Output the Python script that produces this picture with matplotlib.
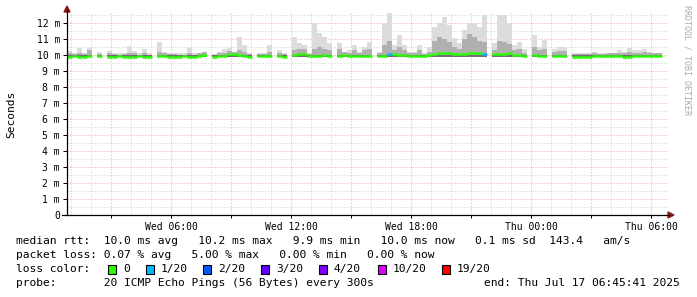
import matplotlib
matplotlib.use('Agg')
import matplotlib.pyplot as plt
import numpy as np
from matplotlib.patches import Rectangle, Polygon
from matplotlib.lines import Line2D

plt.rcParams['font.family'] = ['DejaVu Sans Mono']

W, H = 697, 297

# time axis: hours after Wed 00:00, one column every 15 min
t_start = 0.8
step = 0.25

# smoke (ms): upper edge of light smoke, upper edge of dense smoke
smoke_top = [10.25, 10.15, 10.46, 10.15, 10.46, None, 10.2, None, 10.27, 10.14,
             10.1, 10.14, 10.56, 10.25, 10.1, 10.4, 10.1, None, 10.8, 10.2,
             10.14, 10.14, 10.1, 10.1, 10.46, 10.1, 10.1, 10.2, None, 10.05,
             10.2, 10.35, 10.46, 10.2, 11.15, 10.6, 10.1, None, 10.14, 10.1,
             10.6, None, 10.3, 10.1, None, 11.1, 10.73, 10.62, 10.15, 12.0,
             11.35, 11.1, 10.75, None, 10.73, 10.2, 10.3, 10.6, 10.2, 10.52,
             10.83, None, 10.2, 11.98, 12.6, 10.62, 11.25, 10.62, 10.2, 10.2,
             10.62, 10.1, 10.52, 11.77, 11.98, 12.35, 11.87, 11.04, 10.73, 11.56,
             11.98, 11.98, 11.77, 12.5, None, 10.73, 12.5, 12.5, 11.98, 10.62,
             10.83, 10.35, None, 11.25, 10.52, 10.94, None, 10.4, 10.5, 10.5,
             None, 10.14, 10.14, 10.14, 10.14, 10.2, 10.1, 10.1, 10.1, 10.1,
             10.3, 10.2, 10.46, 10.3, 10.3, 10.35, 10.2, 10.14, 10.14, None]

smoke_mid = [10.15, 10.05, 10.1, 10.05, 10.3, None, 10.05, None, 10.1, 10.05,
             10.02, 10.05, 10.1, 10.1, 10.02, 10.1, 10.02, None, 10.2, 10.1,
             10.05, 10.05, 10.02, 10.02, 10.1, 10.02, 10.1, 10.2, None, 10.02,
             10.1, 10.15, 10.25, 10.2, 10.3, 10.2, 10.05, None, 10.05, 10.05,
             10.2, None, 10.15, 10.05, None, 10.3, 10.35, 10.4, 10.05, 10.4,
             10.5, 10.4, 10.3, None, 10.4, 10.2, 10.15, 10.3, 10.1, 10.3,
             10.4, None, 10.1, 10.6, 10.9, 10.3, 10.5, 10.3, 10.1, 10.1,
             10.3, 10.05, 10.2, 10.9, 11.1, 11.0, 10.8, 10.5, 10.4, 11.0,
             11.3, 11.1, 10.9, 10.8, None, 10.3, 10.9, 10.8, 10.7, 10.3,
             10.4, 10.15, None, 10.5, 10.3, 10.4, None, 10.2, 10.25, 10.25,
             None, 10.05, 10.05, 10.05, 10.05, 10.1, 10.05, 10.05, 10.1, 10.1,
             10.15, 10.15, 10.2, 10.15, 10.15, 10.2, 10.15, 10.1, 10.1, None]

median = [9.9, 9.93, 9.9, 9.9, 9.95, None, 9.93, None, 9.9, 9.9,
          9.92, 9.9, 9.9, 9.9, 9.92, 9.9, 9.9, None, 9.92, 9.93,
          9.9, 9.9, 9.9, 9.92, 9.9, 9.9, 9.95, 10.0, None, 9.9,
          9.92, 9.95, 10.08, 10.05, 10.0, 9.92, 9.9, None, 9.92, 9.93,
          9.95, None, 9.95, 9.9, None, 10.02, 10.05, 10.08, 9.95, 9.95,
          9.95, 10.0, 9.95, None, 9.95, 10.0, 9.95, 9.95, 9.92, 9.95,
          9.95, None, 9.95, 9.95, 10.05, 10.05, 10.0, 9.98, 9.95, 9.95,
          9.95, 9.95, 10.0, 10.05, 10.1, 10.12, 10.1, 10.05, 10.05, 10.08,
          10.12, 10.15, 10.12, 10.08, None, 10.05, 10.05, 10.08, 10.1, 10.0,
          9.98, 9.95, None, 9.98, 9.95, 9.95, None, 9.95, 9.92, 9.92,
          None, 9.9, 9.9, 9.88, 9.9, 9.92, 9.92, 9.93, 9.95, 9.95,
          9.93, 9.9, 9.9, 9.92, 9.95, 9.95, 9.93, 9.92, 9.92, None]

# lost pings (of 20) per column, all others 0
lost = {64: 1, 83: 1}
smoke_floor = 9.85

loss_levels = [0, 1, 2, 3, 4, 10, 19]
loss_labels = ['0', '1/20', '2/20', '3/20', '4/20', '10/20', '19/20']
loss_colors = ['#26ff00', '#00b8ff', '#0059ff', '#5e00ff', '#7e00ff', '#dd00ff', '#ff0000']

tick_hours = [6, 12, 18, 24, 30]
tick_labels = ['Wed 06:00', 'Wed 12:00', 'Wed 18:00', 'Thu 00:00', 'Thu 06:00']


def fx(x):
    return x / W


def fy(y):
    return 1 - y / H


fig = plt.figure(figsize=(W / 100, H / 100), dpi=100)
ax = fig.add_axes([fx(67), fy(215), 601 / W, 202 / H])
ax.set_xlim(t_start, t_start + 601 / 20)
ax.set_ylim(0, 202 / 16)

n = len(median)
t = t_start + step * np.arange(n)
top = np.array([np.nan if v is None else v for v in smoke_top])
mid = np.array([np.nan if v is None else v for v in smoke_mid])
med = np.array([np.nan if v is None else v for v in median])

# grid
for h in range(1, 32):
    c = '#f0a0a0' if h % 3 == 0 else '#cccccc'
    ax.axvline(h, color=c, lw=0.72, ls=(0, (1, 2)), zorder=0)
for k in range(1, 26):
    c = '#f0a0a0' if k % 2 == 0 else '#cccccc'
    ax.axhline(k / 2, color=c, lw=0.72, ls=(0, (1, 2)), zorder=0)

ok = ~np.isnan(top)
ax.bar(t[ok], top[ok] - smoke_floor, bottom=smoke_floor, width=step, align='edge',
       color='#dcdcdc', lw=0, zorder=1)
ok = ~np.isnan(mid)
ax.bar(t[ok], mid[ok] - smoke_floor, bottom=smoke_floor, width=step, align='edge',
       color='#b0b0b0', lw=0, zorder=2)
ax.bar(t[ok], 0.16, bottom=smoke_floor, width=step, align='edge',
       color='#707070', lw=0, zorder=2)

cols = []
for i in range(n):
    lvl = lost.get(i, 0)
    cols.append(loss_colors[loss_levels.index(lvl)])
ok = ~np.isnan(med)
ax.hlines(med[ok], t[ok], t[ok] + step, colors=np.array(cols)[ok], lw=1.8, zorder=3)

# axes look
for s in ['top', 'right', 'left', 'bottom']:
    ax.spines[s].set_visible(False)
ax.set_yticks(range(13))
ax.set_yticklabels(['0'] + ['%d m' % k for k in range(1, 13)], fontsize=7)
ax.set_xticks(tick_hours)
ax.set_xticklabels(tick_labels, fontsize=7)
ax.set_xticks(range(3, 31, 3), minor=True)
ax.tick_params(axis='y', length=3, width=0.72, pad=2)
ax.tick_params(axis='x', which='both', length=2, width=0.72, pad=3)

fig.add_artist(Line2D([fx(67), fx(67)], [fy(215), fy(10)], color='black', lw=0.9))
fig.add_artist(Line2D([fx(62), fx(669)], [fy(215), fy(215)], color='black', lw=0.9))
fig.add_artist(Polygon([(fx(64), fy(12)), (fx(70), fy(12)), (fx(67), fy(6))],
                       closed=True, color='#8b1a1a'))
fig.add_artist(Polygon([(fx(668), fy(212)), (fx(668), fy(218)), (fx(674), fy(215))],
                       closed=True, color='#8b1a1a'))

fig.text(fx(11), fy(114), 'Seconds', rotation=90, va='center', ha='center', fontsize=8.1)
fig.text(fx(687), fy(5), 'RRDTOOL / TOBI OETIKER', rotation=270, va='top', ha='center',
         fontsize=6, color='#aaaaaa')

fs = 8.1
fig.text(fx(16), fy(241), 'median rtt:  10.0 ms avg   10.2 ms max   9.9 ms min   '
         '10.0 ms now   0.1 ms sd  143.4   am/s', fontsize=fs, va='center')
fig.text(fx(16), fy(255), 'packet loss: 0.07 % avg   5.00 % max   0.00 % min   0.00 % now',
         fontsize=fs, va='center')
fig.text(fx(16), fy(269), 'loss color:', fontsize=fs, va='center')
box_x = [108, 146, 203, 261, 319, 378, 442]
for bx, lab, c in zip(box_x, loss_labels, loss_colors):
    fig.add_artist(Rectangle((fx(bx), fy(273.5)), 8 / W, 9 / H, facecolor=c,
                             edgecolor='black', lw=0.8))
    fig.text(fx(bx + 15), fy(269), lab, fontsize=fs, va='center')
fig.text(fx(16), fy(283), 'probe:       20 ICMP Echo Pings (56 Bytes) every 300s',
         fontsize=fs, va='center')
fig.text(fx(680), fy(283), 'end: Thu Jul 17 06:45:41 2025', fontsize=fs, va='center', ha='right')

fig.savefig('out.png', dpi=100)
